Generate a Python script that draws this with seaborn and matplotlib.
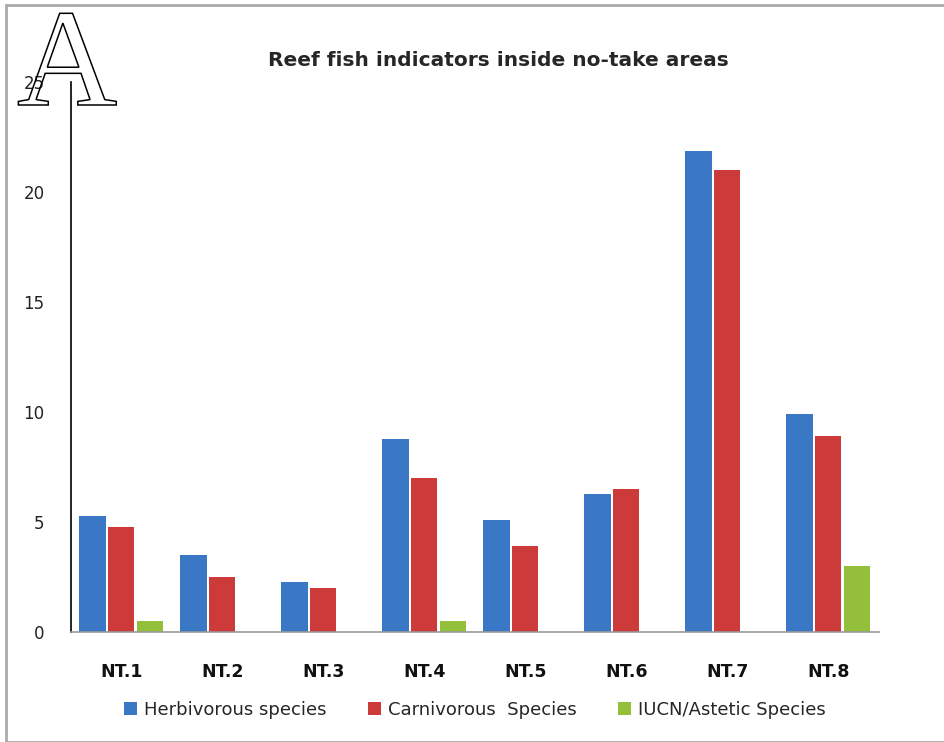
import pandas as pd
import matplotlib.pyplot as plt
import seaborn as sns
from matplotlib.patches import Rectangle, PathPatch
from matplotlib.textpath import TextPath
from matplotlib.font_manager import FontProperties
from matplotlib.transforms import Affine2D

# Reef fish indicators inside no-take areas

sites = ["NT.1", "NT.2", "NT.3", "NT.4", "NT.5", "NT.6", "NT.7", "NT.8"]
herbivorous = [5.3, 3.5, 2.3, 8.8, 5.1, 6.3, 21.9, 9.9]
carnivorous = [4.8, 2.5, 2.0, 7.0, 3.9, 6.5, 21.0, 8.9]
iucn = [0.5, 0, 0, 0.5, 0, 0, 0, 3.0]
series = ["Herbivorous species", "Carnivorous  Species", "IUCN/Astetic Species"]
colors = ["#3A78C6", "#CC3A3A", "#94BF3A"]

df = pd.DataFrame({
    "site": sites * 3,
    "value": herbivorous + carnivorous + iucn,
    "group": [series[0]] * 8 + [series[1]] * 8 + [series[2]] * 8,
})

sns.set_style("white")
plt.rcParams["font.family"] = ["DejaVu Sans"]

fig = plt.figure(figsize=(9.45, 7.42), dpi=100)
ax = fig.add_axes([0.0751, 0.148, 0.855, 0.741])

sns.barplot(
    data=df, x="site", y="value", hue="group",
    palette=colors, saturation=1, width=0.86, gap=0.1,
    linewidth=0, errorbar=None, ax=ax,
)

ax.set_ylim(0, 25)
ax.set_xlim(-0.5, 7.5)
ax.set_yticks([0, 5, 10, 15, 20, 25])
ax.set_xlabel("")
ax.set_ylabel("")
for s in ["top", "right"]:
    ax.spines[s].set_visible(False)
ax.spines["left"].set_color("black")
ax.spines["left"].set_linewidth(1.2)
ax.spines["bottom"].set_color("#999999")
ax.spines["bottom"].set_linewidth(1.2)
ax.tick_params(axis="x", length=0, pad=22, labelsize=12.5, labelcolor="#111111")
ax.tick_params(axis="y", length=0, pad=19, labelsize=12, labelcolor="#222222")
for lab in ax.get_xticklabels():
    lab.set_fontweight("bold")

fig.text(0.527, 0.918, "Reef fish indicators inside no-take areas",
         ha="center", va="center", fontsize=14.5, fontweight="bold")

ax.legend(loc="upper center", bbox_to_anchor=(0.5, -0.095), ncol=3,
          frameon=False, fontsize=13, handlelength=0.7, handleheight=0.7,
          columnspacing=2.3, handletextpad=0.4)

# outlined (hollow) panel letter
letter = TextPath((0, 0), "A", size=100, prop=FontProperties(family="Liberation Serif"))
tr = Affine2D().scale(1 / 72).translate(0.17, 7.42 - 1.05) + fig.dpi_scale_trans
fig.patches.append(PathPatch(letter, transform=tr, facecolor="none",
                             edgecolor="black", linewidth=1.1))

fig.patches.append(Rectangle((0.006, 0.0), 0.994, 0.993, transform=fig.transFigure,
                             fill=False, edgecolor="#AAAAAA", linewidth=2))

fig.savefig("out.png", dpi=100)
